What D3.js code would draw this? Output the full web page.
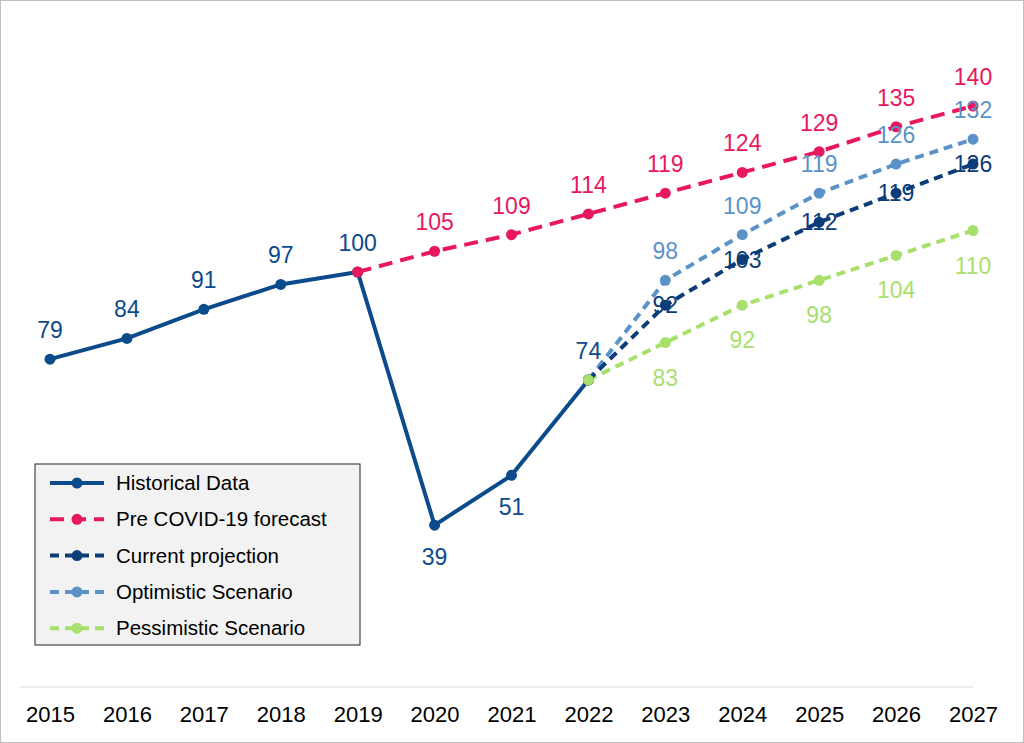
<!DOCTYPE html>
<html><head><meta charset="utf-8">
<script src="https://cdn.jsdelivr.net/npm/d3@7"></script>
<style>body{margin:0;background:#fff}svg{display:block;font-family:Arial,"Liberation Sans",sans-serif}</style>
</head><body><svg id="c" width="1024" height="743"></svg>
<script>
const years=[2015,2016,2017,2018,2019,2020,2021,2022,2023,2024,2025,2026,2027];
const histYears=[2015,2016,2017,2018,2019,2020,2021,2022];
const histVals=[79,84,91,97,100,39,51,74];
const preYears=[2019,2020,2021,2022,2023,2024,2025,2026,2027];
const preVals=[100,105,109,114,119,124,129,135,140];
const projYears=[2022,2023,2024,2025,2026,2027];
const curVals=[74,92,103,112,119,126];
const optVals=[74,98,109,119,126,132];
const pesVals=[74,83,92,98,104,110];
const names=["Historical Data","Pre COVID-19 forecast","Current projection","Optimistic Scenario","Pessimistic Scenario"];
const colors=["#0b4a8b","#e8185e","#0d3d78","#5b93c9","#a8e06c"];

const svg=d3.select("#c");
svg.append("rect").attr("x",0.5).attr("y",0.5).attr("width",1023).attr("height",742).attr("fill","#fff").attr("stroke","#bfbfbf");
const x=d3.scalePoint().domain(years).range([50,973]);
const y=d3.scaleLinear().domain([0,100]).range([687,272]);
svg.append("line").attr("x1",20).attr("x2",973).attr("y1",687).attr("y2",687).attr("stroke","#d9d9d9");
const ax=svg.append("g").attr("transform","translate(0,687)").call(d3.axisBottom(x).tickSize(0).tickPadding(19));
ax.select(".domain").remove();
ax.selectAll("text").attr("font-size",22).attr("fill","#000").attr("font-family","Arial,'Liberation Sans',sans-serif");

const line=d3.line().x(d=>x(d[0])).y(d=>y(d[1]));
const series=[
 {ys:histYears,vs:histVals,c:colors[0],dash:null,off:(v,i)=>(v===39||v===51)?40:-21,skip:[]},
 {ys:preYears,vs:preVals,c:colors[1],dash:"14,8",off:()=>-21,skip:[0]},
 {ys:projYears,vs:optVals,c:colors[3],dash:"9,6",off:()=>-21,skip:[0]},
 {ys:projYears,vs:pesVals,c:colors[4],dash:"9,6",off:()=>43,skip:[0]},
 {ys:projYears,vs:curVals,c:colors[2],dash:"9,6",off:()=>8,skip:[0]}
];
series.forEach(s=>{
  const pts=s.ys.map((yr,i)=>[yr,s.vs[i]]);
  svg.append("path").attr("d",line(pts)).attr("fill","none").attr("stroke",s.c).attr("stroke-width",4).attr("stroke-dasharray",s.dash);
  svg.selectAll(null).data(pts).join("circle").attr("cx",d=>x(d[0])).attr("cy",d=>y(d[1])).attr("r",5.5).attr("fill",s.c);
});
series.forEach(s=>{
  const pts=s.ys.map((yr,i)=>[yr,s.vs[i],i]).filter(d=>!s.skip.includes(d[2]));
  svg.selectAll(null).data(pts).join("text").attr("x",d=>x(d[0])).attr("y",d=>y(d[1])+s.off(d[1],d[2]))
    .attr("text-anchor","middle").attr("font-size",23).attr("fill",s.c).text(d=>d[1]);
});
svg.append("circle").attr("cx",x(2022)).attr("cy",y(74)).attr("r",5.5).attr("fill",colors[4]);

const lg=svg.append("g");
lg.append("rect").attr("x",35).attr("y",464).attr("width",325).attr("height",181).attr("fill","#f2f2f2").attr("stroke","#222");
const dashes=[null,"14,8","9,6","9,6","9,6"];
names.forEach((n,i)=>{
  const yy=483+i*36.3;
  lg.append("line").attr("x1",50).attr("x2",104).attr("y1",yy).attr("y2",yy).attr("stroke",colors[i]).attr("stroke-width",4).attr("stroke-dasharray",dashes[i]);
  lg.append("circle").attr("cx",77).attr("cy",yy).attr("r",5.5).attr("fill",colors[i]);
  lg.append("text").attr("x",116).attr("y",yy+7).attr("font-size",20.5).attr("fill","#000").text(n);
});
</script></body></html>
